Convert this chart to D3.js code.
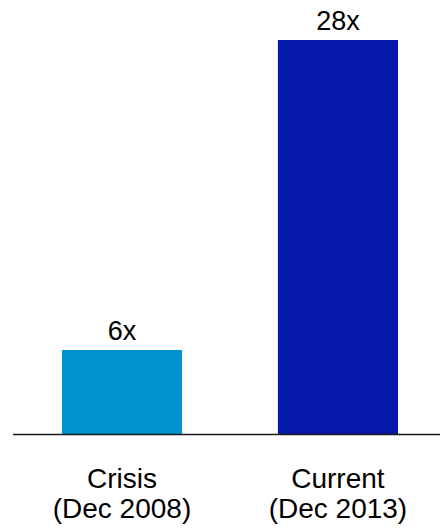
<!DOCTYPE html>
<html>
<head>
<meta charset="utf-8">
<script src="https://cdn.jsdelivr.net/npm/d3@7"></script>
<style>
  html, body { margin: 0; padding: 0; background: #ffffff; }
  svg { display: block; }
  text { font-family: "Liberation Sans", Arial, sans-serif; fill: #000; }
</style>
</head>
<body>
<svg id="chart" width="440" height="531"></svg>
<script>
// Leverage multiple: crisis vs current
const categories = ["Crisis", "Current"];
const subLabels = ["(Dec 2008)", "(Dec 2013)"];
const values = [6, 28];
const valueLabels = ["6x", "28x"];
const barColors = ["#0092CF", "#0519A8"];

const W = 440, H = 531;
const baseY = 434.5;
const topY = 40;

const svg = d3.select("#chart");

const x = d3.scaleBand()
  .domain(categories)
  .range([14, 440])
  .paddingInner(0.444)
  .paddingOuter(0.2083)
  .align(0.533);

const y = d3.scaleLinear()
  .domain([0, d3.max(values)])
  .range([baseY, topY]);

const data = categories.map((c, i) => ({
  cat: c, sub: subLabels[i], v: values[i], label: valueLabels[i], color: barColors[i]
}));

// bars
svg.selectAll("rect.bar")
  .data(data)
  .join("rect")
  .attr("class", "bar")
  .attr("x", d => x(d.cat))
  .attr("y", d => y(d.v))
  .attr("width", x.bandwidth())
  .attr("height", d => y(0) - y(d.v))
  .attr("fill", d => d.color);

// baseline
svg.append("line")
  .attr("x1", 13).attr("x2", W)
  .attr("y1", y(0)).attr("y2", y(0))
  .attr("stroke", "#1a1a1a")
  .attr("stroke-width", 1.6);

// value labels
svg.selectAll("text.val")
  .data(data)
  .join("text")
  .attr("class", "val")
  .attr("x", d => x(d.cat) + x.bandwidth() / 2)
  .attr("y", d => y(d.v) - 10)
  .attr("text-anchor", "middle")
  .attr("font-size", 27)
  .text(d => d.label);

// category labels
const cl = svg.selectAll("text.cat")
  .data(data)
  .join("text")
  .attr("class", "cat")
  .attr("text-anchor", "middle")
  .attr("font-size", 28);

cl.append("tspan")
  .attr("x", d => x(d.cat) + x.bandwidth() / 2)
  .attr("y", 488)
  .text(d => d.cat);
cl.append("tspan")
  .attr("x", d => x(d.cat) + x.bandwidth() / 2)
  .attr("y", 518)
  .text(d => d.sub);
</script>
</body>
</html>
